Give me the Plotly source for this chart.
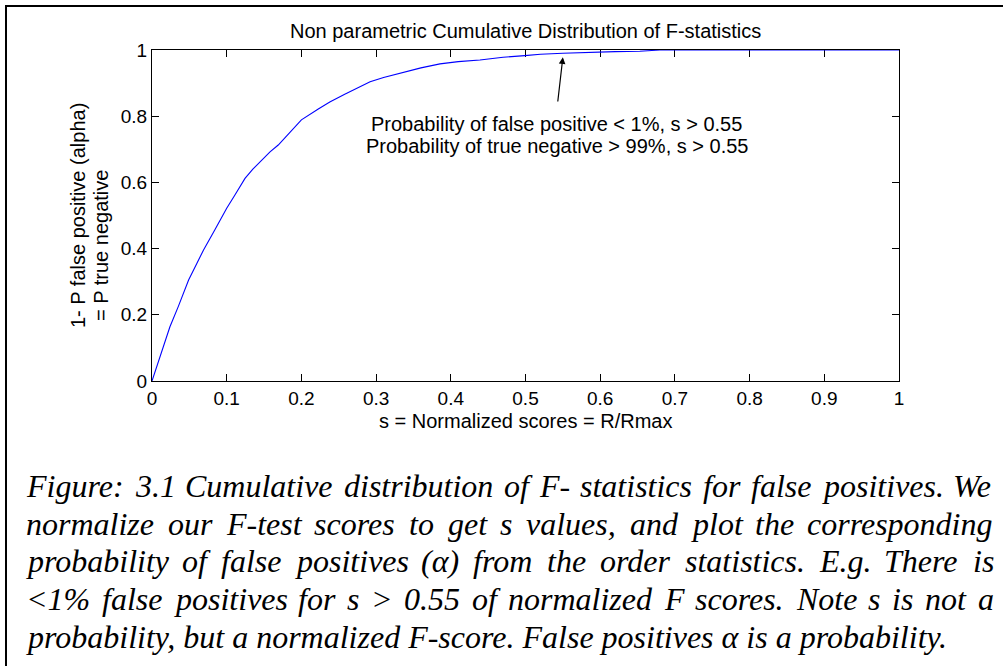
import plotly.graph_objects as go

# ---- data -------------------------------------------------------------
# Empirical cumulative distribution of normalized F scores under the null
s_vals = [0.0, 0.005, 0.012, 0.017, 0.024, 0.035, 0.049, 0.060, 0.069, 0.084,
          0.100, 0.111, 0.1245, 0.135, 0.147, 0.158, 0.169, 0.185, 0.200,
          0.2226, 0.238, 0.258, 0.270, 0.292, 0.310, 0.332, 0.360, 0.3855,
          0.410, 0.439, 0.470, 0.499, 0.520, 0.550, 0.595, 0.620, 0.653,
          0.680, 1.0]
cdf_vals = [0.0, 0.034, 0.082, 0.118, 0.164, 0.224, 0.305, 0.355, 0.396, 0.456,
            0.522, 0.562, 0.612, 0.640, 0.668, 0.692, 0.713, 0.753, 0.789,
            0.822, 0.843, 0.866, 0.880, 0.904, 0.917, 0.930, 0.946, 0.958,
            0.965, 0.970, 0.978, 0.983, 0.987, 0.990, 0.994, 0.995, 0.996,
            1.0, 1.0]

x_ticks = [0, 0.1, 0.2, 0.3, 0.4, 0.5, 0.6, 0.7, 0.8, 0.9, 1]
x_tick_labels = ["0", "0.1", "0.2", "0.3", "0.4", "0.5", "0.6", "0.7", "0.8", "0.9", "1"]
y_ticks = [0, 0.2, 0.4, 0.6, 0.8, 1]
y_tick_labels = ["0", "0.2", "0.4", "0.6", "0.8", "1"]

# threshold called out on the plot
s_threshold = 0.55
cdf_at_arrow = 0.978

title_text = "Non parametric Cumulative Distribution of F-statistics"
x_title = "s = Normalized scores = R/Rmax"
y_title_lines = ["1- P false positive (alpha)", "= P true negative"]
note_lines = ["Probability of false positive < 1%, s > 0.55",
              "Probability of true negative > 99%, s > 0.55"]

caption_lines = [
    "Figure: 3.1 Cumulative distribution of F- statistics for false positives. We",
    "normalize our F-test scores to get s values, and plot the corresponding",
    "probability of false positives (\u03b1) from the order statistics. E.g. There is",
    "<1% false positives for s > 0.55 of normalized F scores. Note s is not a",
    "probability, but a normalized F-score. False positives \u03b1 is a probability.",
]

# ---- geometry ---------------------------------------------------------
W, H = 1003, 666
PLOT_L, PLOT_R, PLOT_T, PLOT_B = 152, 899, 50, 381


def px_x(px):
    return (px - PLOT_L) / (PLOT_R - PLOT_L)


def px_y(py):
    return (PLOT_B - py) / (PLOT_B - PLOT_T)


SANS = "Liberation Sans, Arial, Helvetica, sans-serif"
SERIF = "Liberation Serif, Times New Roman, serif"
TXT_SIZE = 20
TICK_SIZE = 19

fig = go.Figure()
fig.add_trace(go.Scatter(
    x=s_vals, y=cdf_vals, mode="lines",
    line=dict(color="#0000ff", width=1.1),
    cliponaxis=False, hoverinfo="skip", showlegend=False,
))

axis_common = dict(
    range=[0, 1], showgrid=False, zeroline=False,
    showline=True, linecolor="black", linewidth=1,
    mirror="ticks", ticks="inside", ticklen=7, tickwidth=1, tickcolor="black",
    tickfont=dict(family=SANS, size=TICK_SIZE, color="black"),
    layer="below traces", fixedrange=True,
)
fig.update_xaxes(tickvals=x_ticks, ticktext=x_tick_labels, **axis_common)
fig.update_yaxes(tickvals=y_ticks, ticktext=y_tick_labels, **axis_common)

ann = []
# title and axis titles
ann.append(dict(text=title_text, xref="paper", yref="paper", x=0.5, y=px_y(31),
                xanchor="center", yanchor="middle", showarrow=False,
                font=dict(family=SANS, size=TXT_SIZE, color="black")))
ann.append(dict(text=x_title, xref="paper", yref="paper", x=0.5, y=px_y(421),
                xanchor="center", yanchor="middle", showarrow=False,
                font=dict(family=SANS, size=TXT_SIZE, color="black")))
for txt, cx, cy in zip(y_title_lines, [78, 101], [216, 246]):
    ann.append(dict(text=txt, xref="paper", yref="paper", x=px_x(cx), y=px_y(cy),
                    xanchor="center", yanchor="middle", textangle=-90,
                    showarrow=False,
                    font=dict(family=SANS, size=TXT_SIZE, color="black")))

# note text inside the axes
for txt, yy in zip(note_lines, [0.776, 0.710]):
    ann.append(dict(text=txt.replace("<", "&lt;").replace(">", "&gt;"),
                    xref="x", yref="y", x=0.542, y=yy,
                    xanchor="center", yanchor="middle", showarrow=False,
                    font=dict(family=SANS, size=TXT_SIZE, color="black")))

# arrow pointing at the curve at the threshold
ann.append(dict(text="", xref="x", yref="y", x=s_threshold, y=cdf_at_arrow,
                axref="x", ayref="y", ax=0.543, ay=0.84,
                showarrow=True, arrowhead=2, arrowsize=1.1, arrowwidth=1.2,
                arrowcolor="black", standoff=0, startstandoff=0))

# ---- justified italic caption ----------------------------------------
# advance widths (1/1000 em) of the serif italic face
ITALIC_W = {
    " ": 250, "%": 833, "(": 333, ")": 333, ",": 250, "-": 333, ".": 250,
    ":": 333, "<": 675, ">": 675, "=": 675, "\u03b1": 550,
    "A": 611, "B": 611, "C": 667, "D": 722, "E": 611, "F": 611, "G": 722,
    "H": 722, "I": 333, "N": 667, "P": 611, "S": 500, "T": 556, "W": 833,
    "a": 500, "b": 500, "c": 444, "d": 500, "e": 444, "f": 278, "g": 500,
    "h": 500, "i": 278, "j": 278, "k": 444, "l": 278, "m": 722, "n": 500,
    "o": 500, "p": 500, "q": 500, "r": 389, "s": 389, "t": 278, "u": 500,
    "v": 444, "w": 667, "x": 444, "y": 444, "z": 389,
}
CAP_SIZE = 32
CAP_LEFT, CAP_RIGHT = 25, 993
cap_y = [486, 524, 561, 599, 637]


def word_width(word):
    return sum(ITALIC_W.get(c, 500) for c in word) / 1000.0 * CAP_SIZE


cap_font = dict(family=SERIF, size=CAP_SIZE, color="black", style="italic")
for i, (line, cy) in enumerate(zip(caption_lines, cap_y)):
    if i == len(caption_lines) - 1:
        ann.append(dict(text=line.replace("<", "&lt;").replace(">", "&gt;"),
                        xref="paper", yref="paper", x=px_x(CAP_LEFT), y=px_y(cy),
                        xanchor="left", yanchor="middle", showarrow=False,
                        borderpad=0, font=cap_font))
        continue
    words = line.split(" ")
    widths = [word_width(w) for w in words]
    gap = (CAP_RIGHT - CAP_LEFT - sum(widths)) / (len(words) - 1)
    x = CAP_LEFT
    for w, ww in zip(words, widths):
        ann.append(dict(text=w.replace("<", "&lt;").replace(">", "&gt;"),
                        xref="paper", yref="paper", x=px_x(x), y=px_y(cy),
                        xanchor="left", yanchor="middle", showarrow=False,
                        borderpad=0, font=cap_font))
        x += ww + gap

# outer frame (left and top edges)
shapes = [
    dict(type="line", xref="paper", yref="paper",
         x0=px_x(6), x1=px_x(6), y0=px_y(5), y1=px_y(H + 2),
         line=dict(color="black", width=2)),
    dict(type="line", xref="paper", yref="paper",
         x0=px_x(5), x1=px_x(W + 2), y0=px_y(6), y1=px_y(6),
         line=dict(color="black", width=2)),
]

fig.update_layout(
    width=W, height=H,
    margin=dict(l=PLOT_L, r=W - PLOT_R, t=PLOT_T, b=H - PLOT_B),
    paper_bgcolor="white", plot_bgcolor="white",
    annotations=ann, shapes=shapes, showlegend=False,
)

fig.write_html("out.html")
